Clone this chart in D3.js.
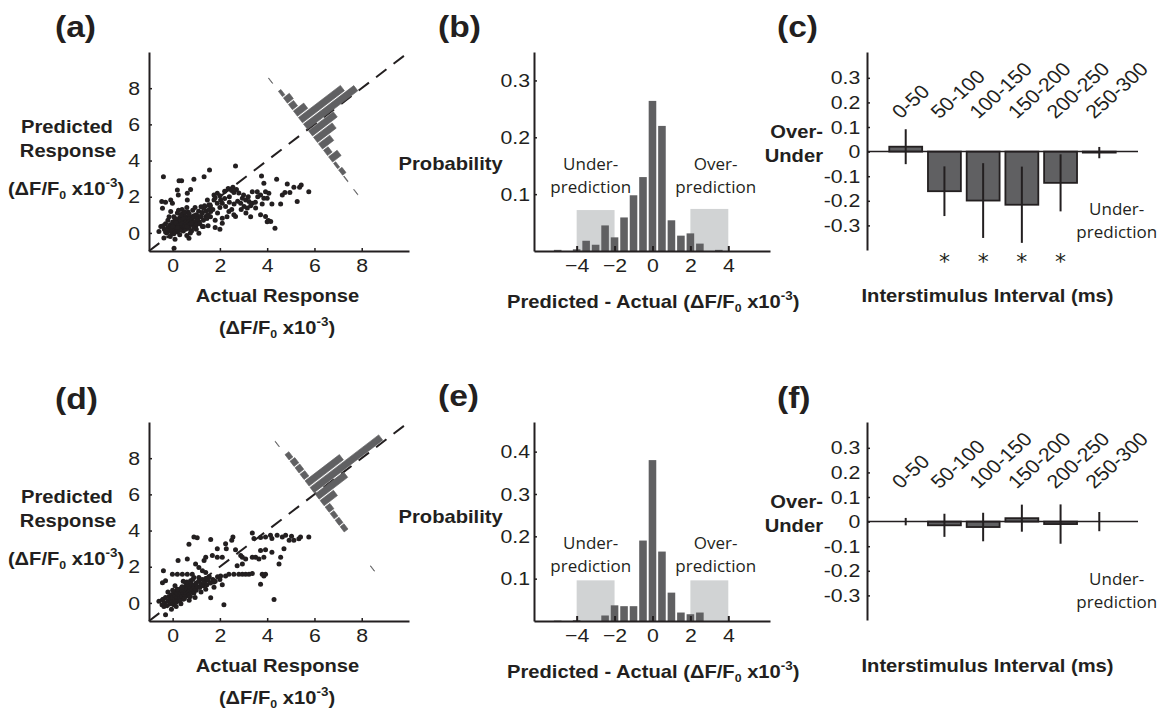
<!DOCTYPE html>
<html>
<head>
<meta charset="utf-8">
<script src="https://cdn.jsdelivr.net/npm/d3@7"></script>
<style>
    body { margin: 0; background: #fff; }
</style>
</head>
<body>
<svg id="fig" width="1168" height="715" font-family="'Liberation Sans', Arial, sans-serif"></svg>
<script>
// ---- data ----

// (a) actual vs predicted response, [actual, predicted]
const scatterA = [
    [2.66, 3.70], [1.56, 3.48], [-0.39, 3.11], [0.27, 2.89], [0.38, 2.89], [0.9, 2.96], [1.33, 3.11],
    [3.76, 3.15], [4.40, 2.97], [3.86, 2.74], [4.85, 2.71], [5.13, 2.52], [5.37, 2.52], [5.44, 2.65],
    [5.76, 2.28], [5.27, 1.73], [4.57, 1.6], [4.75, 2.23], [4.96, 2.23], [4.64, 2.1], [2.55, 2.52],
    [2.45, 2.41], [2.59, 2.23], [3.37, 2.28], [3.58, 2.28], [3.93, 2.28], [4.07, 2.19], [3.72, 2.1],
    [3.86, 1.92], [4.0, 1.92], [3.79, 1.6], [4.2, 1.6], [3.09, 1.82], [3.23, 1.73], [2.95, 1.91],
    [2.88, 1.64], [3.02, 1.46], [3.16, 1.38], [3.51, 1.38], [3.72, 1.0], [3.93, 0.91], [3.37, 1.64],
    [4.05, 0.68], [4.15, 0.63], [4.33, 0.26], [2.59, 1.0], [2.66, 0.91], [2.38, 1.18], [2.1, 0.81],
    [2.1, 0.53], [2.24, 1.46], [2.1, 1.64], [2.03, 1.82], [1.75, 2.1], [1.89, 2.19], [1.75, 1.82],
    [1.89, 1.64], [1.47, 1.82], [1.54, 1.55], [1.33, 1.38], [1.61, 1.18], [1.40, 0.91], [1.11, 0.91],
    [1.11, 0.63], [0.97, 0.35], [1.26, 0.35], [1.11, -0.02], [0.69, -0.3], [0.06, -0.85], [-0.43, 1.36],
    [-0.46, 1.73], [-0.30, 1.69], [-0.01, 1.64], [-0.08, 1.18], [0.62, 2.19], [0.62, 1.82], [0.2, 2.37],
    [0.24, 2.1], [-0.58, 0.08], [-0.37, -0.28], [-0.5, 0.35], [0.27, 0.68], [0.41, 1.06], [0.55, 0.91],
    [0.76, 2.4], [-0.08, 1.82], [4.0, 0.62],
    [1.8, 1.95], [2.0, 2.05], [2.2, 2.3], [2.35, 2.45], [2.5, 2.35], [2.7, 2.4], [2.8, 2.2], [2.2, 1.9],
    [2.4, 1.7], [1.6, 1.5], [1.7, 1.3], [1.9, 1.1], [2.0, 1.4], [2.4, 2.0], [2.6, 1.6], [2.75, 1.75],
    [3.0, 2.1], [3.2, 2.0], [3.3, 1.5], [3.5, 1.7], [3.6, 2.0], [2.9, 1.3], [3.1, 1.1], [3.3, 0.9],
    [2.5, 1.3], [2.3, 0.9], [1.8, 0.7], [1.6, 0.9], [1.5, 0.4], [1.8, 0.3], [2.0, 0.2],
    [-0.35, 0.2], [-0.3, 0.5], [-0.25, 0.0], [-0.2, 0.3], [-0.2, 0.7], [-0.15, 0.1], [-0.1, 0.45],
    [-0.1, -0.2], [-0.05, 0.25], [0.0, 0.6], [0.0, 0.0], [0.05, 0.35], [0.05, 0.9], [0.1, 0.15],
    [0.1, 0.5], [0.1, -0.35], [0.15, 0.3], [0.15, 0.75], [0.2, 0.05], [0.2, 0.45], [0.2, 1.1],
    [0.25, 0.25], [0.25, 0.6], [0.3, 0.4], [0.3, 0.85], [0.3, -0.1], [0.35, 0.2], [0.35, 0.55],
    [0.4, 0.35], [0.4, 0.7], [0.4, 1.3], [0.45, 0.1], [0.45, 0.5], [0.5, 0.3], [0.5, 0.65], [0.5, 0.95],
    [0.55, 0.45], [0.55, 0.2], [0.6, 0.55], [0.6, 0.8], [0.6, -0.15], [0.65, 0.35], [0.65, 1.15],
    [0.7, 0.6], [0.7, 0.25], [0.75, 0.45], [0.75, 0.9], [0.8, 0.7], [0.8, 0.1], [0.85, 0.5],
    [0.85, 1.25], [0.9, 0.85], [0.9, 0.3], [0.95, 0.6], [1.0, 1.0], [1.0, 0.45], [1.05, 0.75],
    [1.1, 1.2], [1.15, 0.5], [1.2, 0.9], [1.25, 1.1], [1.3, 0.7], [1.35, 1.5], [1.4, 1.2], [1.45, 0.8],
    [1.5, 1.0], [1.55, 1.3], [0.15, 0.55], [0.25, 0.4], [0.35, 0.7], [0.45, 0.8], [0.55, 0.6],
    [0.3, 0.15], [0.2, 0.3], [0.4, 0.5], [0.5, 0.4], [0.6, 0.35], [0.7, 0.75], [0.8, 0.55], [0.9, 0.95],
    [0.1, 0.8], [0.0, 0.35], [-0.05, 0.05], [0.05, -0.05], [0.35, 1.0], [0.5, 1.15], [0.7, 1.05],
    [0.95, 1.4], [1.2, 1.45], [0.6, 1.4], [0.25, 1.25], [-0.15, 0.9], [-0.3, 0.05], [-0.4, 0.4],
    [0.75, 0.0], [1.0, 0.2], [1.3, 0.35]
]

// (d) same, second model
const scatterD = [
    [0.9, 3.65], [1.04, 3.6], [1.61, 3.5], [2.55, 3.65], [2.5, 3.46], [2.24, 3.27], [2.27, 2.99],
    [2.66, 2.94], [3.37, 3.87], [3.44, 3.56], [3.72, 3.61], [3.93, 3.65], [4.14, 3.74], [4.2, 3.56],
    [4.42, 3.74], [4.64, 3.65], [4.78, 3.74], [5.03, 3.69], [5.13, 3.46], [5.34, 3.55], [5.41, 3.65],
    [5.76, 3.65], [3.72, 2.9], [3.93, 2.94], [4.2, 2.8], [3.86, 2.52], [4.57, 2.52], [4.5, 2.15],
    [4.71, 2.99], [4.93, 3.46], [3.37, 2.52], [3.51, 2.52], [3.65, 2.43], [2.95, 2.52], [3.09, 2.43],
    [2.95, 2.15], [2.88, 2.62], [2.73, 2.06], [2.8, 1.59], [2.95, 1.59], [3.09, 1.59], [3.23, 1.59],
    [3.37, 1.62], [3.79, 1.59], [3.86, 1.49], [3.93, 1.59], [3.72, 1.03], [4.29, 0.19], [2.17, -0.1],
    [1.61, 0.28], [1.75, 0.87], [1.75, 1.15], [2.24, 1.49], [2.03, 1.49], [2.38, 1.59], [2.59, 1.59],
    [1.68, 2.62], [1.89, 2.52], [2.1, 2.52], [1.4, 2.52], [1.33, 2.34], [0.97, 2.15], [1.11, 1.96],
    [1.26, 1.78], [1.4, 1.68], [0.23, 2.34], [0.62, 2.43], [-0.01, 1.59], [0.2, 1.59], [0.41, 1.59],
    [0.62, 1.59], [0.83, 1.59], [0.9, 1.4], [1.11, 1.4], [0.55, 1.12], [0.76, 1.22], [-0.43, 1.12],
    [-0.3, 1.22], [-0.58, 0.09], [-0.43, 0.18], [-0.37, -0.2], [-0.3, -0.66], [0.69, 3.24], [1.89, 3.0],
    [-0.39, 1.78],
    [-0.45, -0.1], [-0.4, 0.2], [-0.35, 0.0], [-0.3, 0.3], [-0.25, -0.15], [-0.2, 0.1], [-0.15, 0.35],
    [-0.1, -0.05], [-0.1, 0.2], [-0.05, 0.45], [0.0, 0.1], [0.0, 0.3], [0.05, -0.1], [0.05, 0.55],
    [0.1, 0.2], [0.1, 0.4], [0.15, 0.05], [0.15, 0.6], [0.2, 0.3], [0.2, 0.5], [0.25, 0.15], [0.25, 0.7],
    [0.3, 0.4], [0.3, 0.25], [0.35, 0.55], [0.35, 0.8], [0.4, 0.35], [0.4, 0.65], [0.45, 0.5],
    [0.45, 0.2], [0.5, 0.7], [0.5, 0.45], [0.55, 0.6], [0.55, 0.9], [0.6, 0.4], [0.6, 0.75],
    [0.65, 0.55], [0.65, 1.0], [0.7, 0.7], [0.7, 0.45], [0.75, 0.85], [0.8, 0.6], [0.8, 1.05],
    [0.85, 0.75], [0.9, 0.95], [0.9, 0.55], [0.95, 0.8], [1.0, 1.1], [1.0, 0.7], [1.05, 0.9], [1.1, 1.2],
    [1.15, 0.85], [1.2, 1.05], [1.25, 1.3], [1.3, 0.95], [1.35, 1.15], [1.4, 1.35], [1.45, 1.0],
    [1.5, 1.25], [1.55, 1.45], [1.6, 1.1], [1.7, 1.3], [1.8, 1.2], [1.9, 1.45], [2.0, 1.3], [2.1, 1.0],
    [0.3, 0.1], [0.2, 0.75], [0.4, 0.9], [0.5, 0.25], [0.6, 1.15], [0.75, 0.35], [0.0, 0.7], [-0.2, 0.6],
    [0.1, 0.95], [0.45, 1.2], [0.85, 1.3], [1.2, 0.6], [1.4, 0.75], [0.95, 0.3], [0.15, -0.2],
    [-0.05, -0.35], [0.35, -0.05], [0.7, 0.15]
]

// (b)/(e) histograms of predicted - actual
const errBins = [-5, -4.5, -4, -3.5, -3, -2.5, -2, -1.5, -1, -0.5, 0, 0.5, 1, 1.5, 2, 2.5, 3, 3.5, 4]
const probB = [0.002, 0, 0.003, 0.018, 0.011, 0.045, 0.024, 0.059, 0.098, 0.130, 0.264, 0.220, 0.054, 0.027, 0.031, 0.013, 0, 0.002, 0]
const probE = [0.001, 0, 0.002, 0, 0, 0.013, 0.037, 0.035, 0.035, 0.190, 0.380, 0.164, 0.067, 0.020, 0.016, 0.020, 0, 0, 0]

// shaded under/over regions: [from, to, height]
const shadeB = [[-4, -2, 0.072], [2, 4, 0.074]]
const shadeE = [[-4, -2, 0.096], [2, 4, 0.096]]

// histogram drawn across the diagonal of (d)
const insetBinsD = [3.5, 2.5, 2, 1.5, 1, 0.5, 0, -0.5, -1, -1.5, -2, -2.5, -3, -6]
const insetProbD = [0.002, 0.02, 0.025, 0.025, 0.025, 0.18, 0.36, 0.15, 0.07, 0.025, 0.02, 0.02, 0.02, 0.002]

// (c)/(f) over-under by interstimulus interval
const intervals = ['0-50', '50-100', '100-150', '150-200', '200-250', '250-300']
const meanC = [0.02, -0.161, -0.199, -0.216, -0.127, -0.004]
const errC = [0.071, 0.101, 0.152, 0.155, 0.116, 0.023]
const sigC = [false, true, true, true, true, false]
const meanF = [0.0, -0.015, -0.022, 0.014, -0.01, 0.0]
const errF = [0.015, 0.047, 0.058, 0.055, 0.08, 0.039]
const sigF = [false, false, false, false, false, false]

// tick labels
const scatterTicks = [0, 2, 4, 6, 8]
const histXTicks = [-4, -2, 0, 2, 4]
const probTicksB = [0.1, 0.2, 0.3]
const probTicksE = [0.1, 0.2, 0.3, 0.4]
const diffTicks = [0.3, 0.2, 0.1, 0, -0.1, -0.2, -0.3]

// ---- drawing ----
const ink = '#231f20'
const barFill = '#606062'
const shadeFill = '#d1d3d4'
const SX = 1.12 // lettering in the source is slightly wide
const ROW = 370
const noteFont = "'Open Sans', 'Noto Sans', sans-serif"
const fmt1 = d => d === 0 ? '0' : d.toFixed(1)

const svg = d3.select('#fig')
svg.append('rect').attr('width', 1168).attr('height', 715).attr('fill', '#fff')

function txt(g, x, y, s, o = {}) {
    const sx = o.sx === undefined ? SX : o.sx
    return g.append('text')
        .attr('transform', `translate(${x},${y}) scale(${sx},1)` + (o.rot ? ` rotate(${o.rot})` : ''))
        .attr('text-anchor', o.anchor || 'middle')
        .attr('font-size', o.size || 18)
        .attr('font-weight', o.bold ? 'bold' : null)
        .style('font-family', o.family || null)
        .attr('fill', ink)
        .text(s)
}

// (ΔF/F0 x10-3) with sub/superscripts
function dff(t) {
    t.append('tspan').text('(\u0394F/F')
    t.append('tspan').attr('font-size', 11).attr('dy', 4).text('0')
    t.append('tspan').attr('dy', -4).text(' x10')
    t.append('tspan').attr('font-size', 12).attr('dy', -8).text('-3')
    t.append('tspan').attr('dy', 8).text(')')
    return t
}

function styleAxis(sel) {
    sel.attr('font-family', null).attr('font-size', 19).attr('color', ink)
    sel.select('.domain').attr('stroke-width', 2)
    sel.selectAll('.tick line').attr('stroke-width', 1.5)
    sel.selectAll('.tick text').attr('transform', `scale(${SX},1)`)
}

function scatterPanel(dy, pts, inBins, inProb, inAt) {
    const g = svg.append('g')
    const x = d3.scaleLinear().domain([-1, 10]).range([149, 409])
    const y = d3.scaleLinear().domain([-1, 10]).range([251 + dy, 52 + dy])

    g.append('g').selectAll('circle')
        .data(pts)
        .join('circle')
        .attr('cx', d => x(d[0]))
        .attr('cy', d => y(d[1]))
        .attr('r', 2.5)
        .attr('fill', ink)

    g.append('line')
        .attr('x1', x(-1)).attr('y1', y(-1))
        .attr('x2', x(10)).attr('y2', y(10))
        .attr('stroke', ink)
        .attr('stroke-width', 2)
        .attr('stroke-dasharray', '13 9')

    // error histogram laid across the unity line
    const ang = Math.atan2(y(1) - y(0), x(1) - x(0)) * 180 / Math.PI
    const along = d3.scaleLinear().domain([0, 1]).range([0, -16.5])
    const len = d3.scaleLinear().domain([0, 1]).range([0, 240])
    const inset = g.append('g')
        .attr('transform', `translate(${x(inAt[0])},${y(inAt[1])}) rotate(${ang})`)
    inset.selectAll('rect')
        .data(inBins.map((b, i) => ({ b, p: inProb[i] })).filter(d => d.p > 0))
        .join('rect')
        .attr('x', 0)
        .attr('y', d => along(d.b) - 3.3)
        .attr('width', d => len(d.p))
        .attr('height', 6.6)
        .attr('fill', barFill)
        .attr('stroke', barFill)
        .attr('stroke-width', 0.6)

    g.append('g')
        .attr('transform', `translate(0,${y(-1)})`)
        .call(d3.axisBottom(x).tickValues(scatterTicks).tickSize(-3).tickSizeOuter(0).tickPadding(8))
        .call(styleAxis)
    g.append('g')
        .attr('transform', `translate(${x(-1)},0)`)
        .call(d3.axisLeft(y).tickValues(scatterTicks).tickSize(-3).tickSizeOuter(0).tickPadding(8))
        .call(styleAxis)

    txt(g, 67, 133 + dy, 'Predicted', { bold: true })
    txt(g, 68, 157 + dy, 'Response', { bold: true })
    dff(txt(g, 66, 195 + dy, '', { bold: true }))
    txt(g, 277.5, 302 + dy, 'Actual Response', { bold: true })
    dff(txt(g, 277, 334 + dy, '', { bold: true }))
}

function histPanel(dy, prob, shades, yMax, yTicks, probY, noteY) {
    const g = svg.append('g')
    const x = d3.scaleLinear().domain([-6.25, 6.2]).range([534, 770])
    const y = d3.scaleLinear().domain([0, yMax]).range([251 + dy, 52 + dy])

    g.selectAll('.shade')
        .data(shades)
        .join('rect')
        .attr('class', 'shade')
        .attr('x', d => x(d[0]))
        .attr('width', d => x(d[1]) - x(d[0]))
        .attr('y', d => y(d[2]))
        .attr('height', d => y(0) - y(d[2]))
        .attr('fill', shadeFill)

    g.selectAll('.bar')
        .data(errBins.map((b, i) => ({ b, p: prob[i] })).filter(d => d.p > 0))
        .join('rect')
        .attr('class', 'bar')
        .attr('x', d => x(d.b - 0.2))
        .attr('width', d => x(d.b + 0.2) - x(d.b - 0.2))
        .attr('y', d => y(d.p))
        .attr('height', d => y(0) - y(d.p))
        .attr('fill', barFill)

    g.append('g')
        .attr('transform', `translate(0,${y(0)})`)
        .call(d3.axisBottom(x).tickValues(histXTicks).tickSize(-5).tickSizeOuter(0).tickPadding(8))
        .call(styleAxis)
        .call(a => a.selectAll('.tick line').attr('stroke-width', 2))
    g.append('g')
        .attr('transform', `translate(${x.range()[0]},0)`)
        .call(d3.axisLeft(y).tickValues(yTicks).tickSize(-3).tickSizeOuter(0).tickPadding(3.5).tickFormat(fmt1))
        .call(styleAxis)

    txt(g, 502.7, probY, 'Probability', { bold: true, anchor: 'end' })
    const xl = txt(g, 507, 308 + dy, 'Predicted - Actual ', { bold: true, anchor: 'start' })
    dff(xl)

    const note = { sx: 1, size: 17, family: noteFont }
    txt(g, 590.7, noteY, 'Under-', note)
    txt(g, 590.7, noteY + 23, 'prediction', note)
    txt(g, 715.7, noteY, 'Over-', note)
    txt(g, 715.7, noteY + 23, 'prediction', note)
}

function barPanel(dy, means, errs, sig) {
    const g = svg.append('g')
    const x = d3.scalePoint().domain(intervals).range([867, 1138]).padding(1)
    const y = d3.scaleLinear().domain([-0.4, 0.405]).range([250 + dy, 52 + dy])
    const bw = x.step() * 0.85
    const rows = intervals.map((c, i) => ({ c, m: means[i], e: errs[i], s: sig[i] }))

    g.selectAll('.bar')
        .data(rows)
        .join('rect')
        .attr('class', 'bar')
        .attr('x', d => x(d.c) - bw / 2)
        .attr('width', bw)
        .attr('y', d => Math.min(y(d.m), y(0)))
        .attr('height', d => Math.abs(y(d.m) - y(0)))
        .attr('fill', barFill)
        .attr('stroke', ink)
        .attr('stroke-width', 1.8)

    g.append('line')
        .attr('x1', 867).attr('x2', 1138)
        .attr('y1', y(0)).attr('y2', y(0))
        .attr('stroke', ink)
        .attr('stroke-width', 1.5)

    g.selectAll('.err')
        .data(rows)
        .join('line')
        .attr('class', 'err')
        .attr('x1', d => x(d.c)).attr('x2', d => x(d.c))
        .attr('y1', d => y(d.m + d.e)).attr('y2', d => y(d.m - d.e))
        .attr('stroke', ink)
        .attr('stroke-width', 2)

    g.append('g')
        .attr('transform', 'translate(867,0)')
        .call(d3.axisLeft(y).tickValues(diffTicks).tickSize(-3).tickSizeOuter(0).tickPadding(6).tickFormat(fmt1))
        .call(styleAxis)

    rows.forEach(d => {
        txt(g, x(d.c) - 5, y(0) - 32, d.c, { anchor: 'start', rot: -45, size: 19 })
        if (d.s) txt(g, x(d.c), y(0) + 117, '*', { sx: 1, size: 22, family: "'DejaVu Sans', sans-serif" })
    })

    txt(g, 823, 138 + dy, 'Over-', { bold: true, anchor: 'end' })
    txt(g, 823, 161.7 + dy, 'Under', { bold: true, anchor: 'end' })
    const note = { sx: 1, size: 17, family: noteFont }
    txt(g, 1116.7, 215 + dy, 'Under-', note)
    txt(g, 1116.7, 238 + dy, 'prediction', note)
    txt(g, 987.5, 302 + dy, 'Interstimulus Interval (ms)', { bold: true })
}

scatterPanel(0, scatterA, errBins, probB, [5.62, 5.87])
scatterPanel(ROW, scatterD, insetBinsD, insetProbD, [5.9, 6.24])
histPanel(0, probB, shadeB, 0.35, probTicksB, 170, 170)
histPanel(ROW, probE, shadeE, 0.47, probTicksE, 523, 549)
barPanel(0, meanC, errC, sigC)
barPanel(ROW, meanF, errF, sigF)

const letters = [['(a)', 55, 37], ['(b)', 438, 37], ['(c)', 777, 37],
                 ['(d)', 55, 409], ['(e)', 438, 406], ['(f)', 777, 408]]
letters.forEach(([s, x, y]) => txt(svg, x, y, s, { bold: true, size: 30, anchor: 'start' }))
</script>
</body>
</html>
